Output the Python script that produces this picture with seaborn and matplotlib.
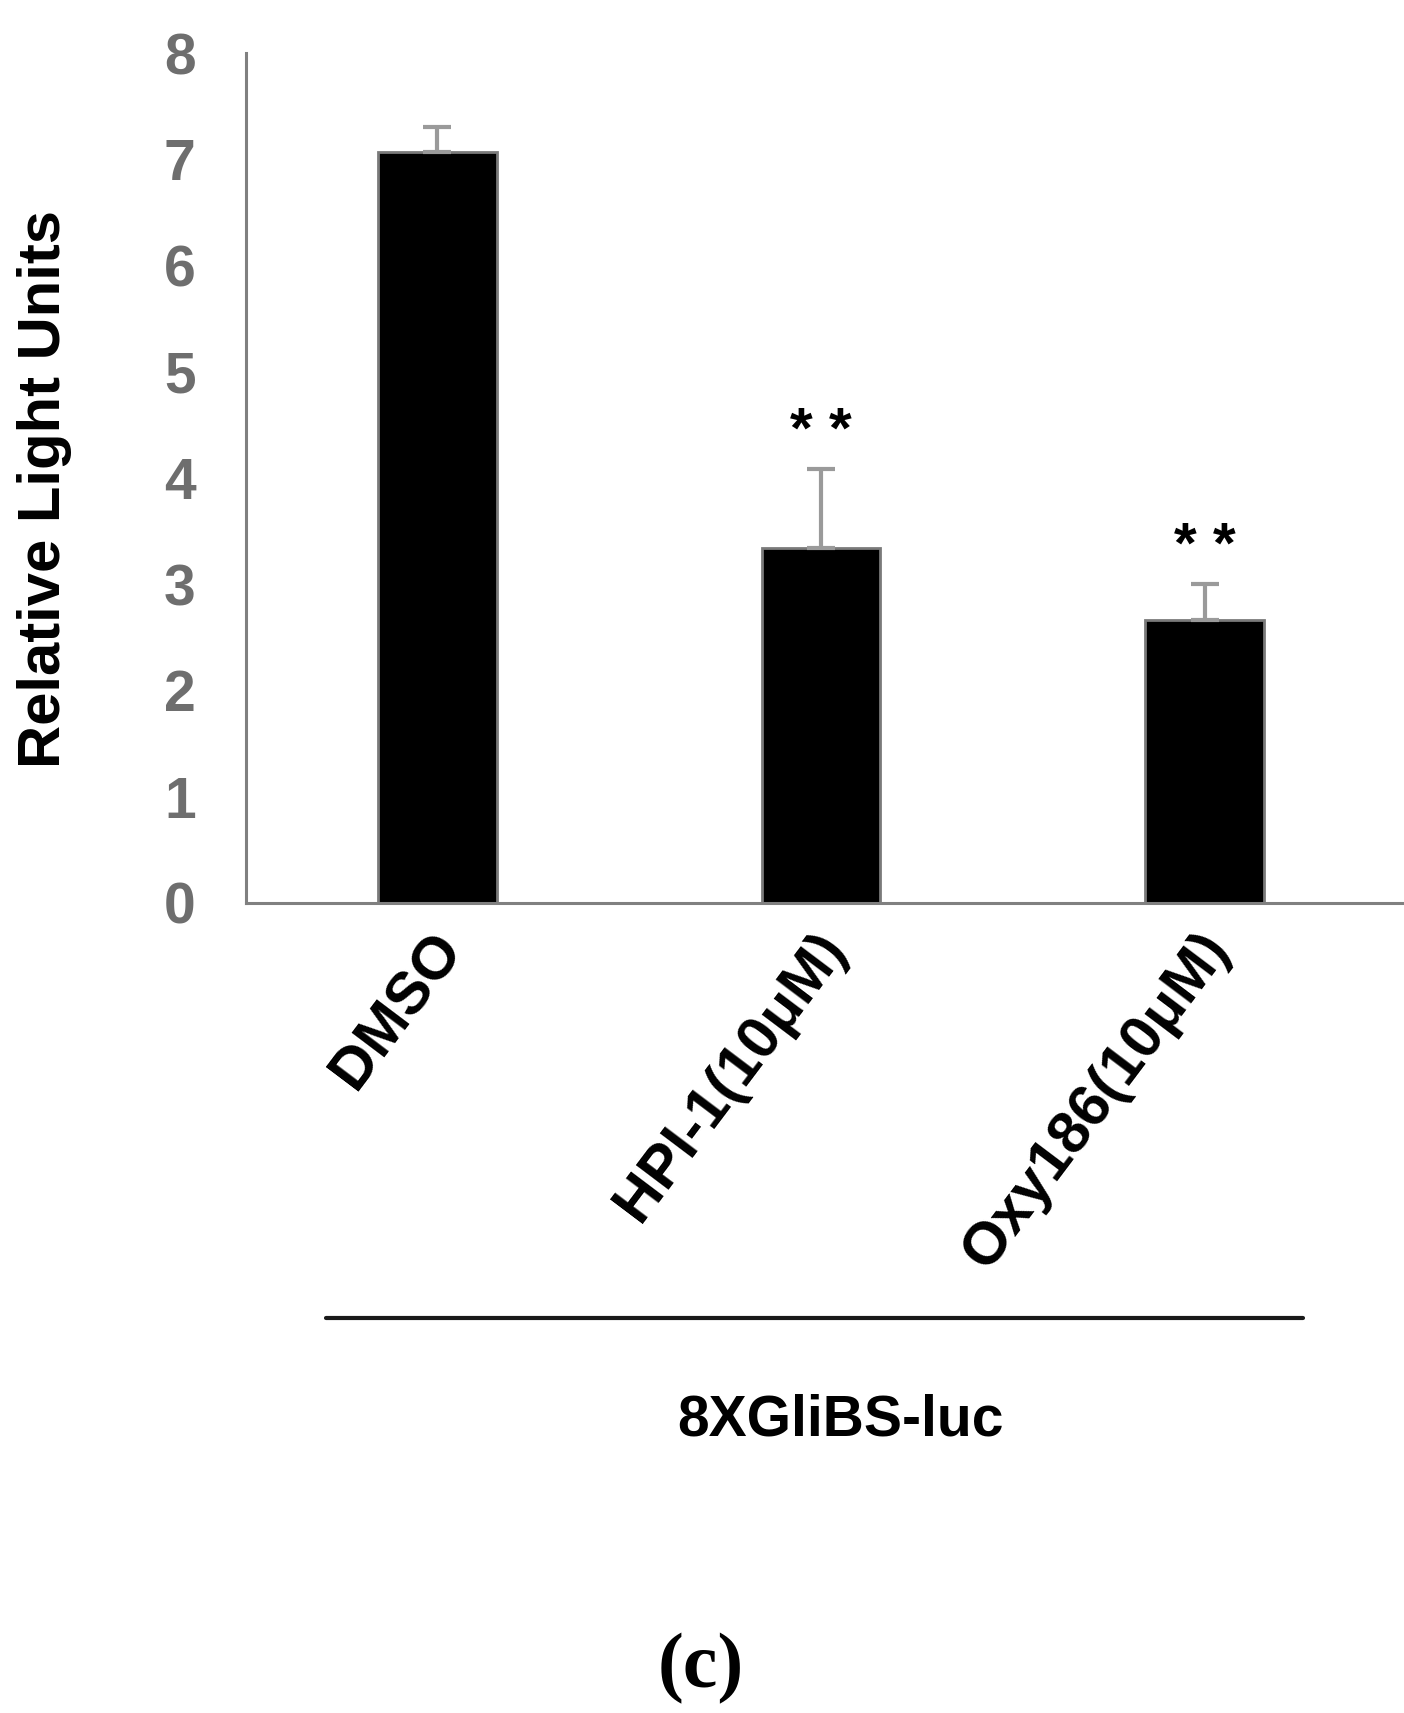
import pandas as pd
import matplotlib.pyplot as plt
import matplotlib.transforms as mtransforms
import seaborn as sns

# --- Data ---
treatments = ['DMSO', 'HPI-1(10\u03bcM)', 'Oxy186(10\u03bcM)']
rlu_mean = [7.07, 3.34, 2.66]
rlu_err = [0.23, 0.74, 0.34]
signif = ['', '**', '**']
reporter = '8XGliBS-luc'
panel = '(c)'

GREY = '#6e6e6e'


def make_plot():
    df = pd.DataFrame({'treatment': treatments, 'rlu': rlu_mean})

    sns.set_theme(style='white')
    plt.rcParams['font.family'] = ['Liberation Sans', 'DejaVu Sans']

    fig = plt.figure(figsize=(14.04, 17.13), dpi=100)
    ax = fig.add_axes([0.175, 0.473, 0.825, 0.496])

    sns.barplot(data=df, x='treatment', y='rlu', color='black', width=0.31,
                errorbar=None, edgecolor='#7a7a7a', linewidth=2, ax=ax)
    for patch in ax.patches:
        patch.set_facecolor('black')

    # error bars (upper only)
    ax.errorbar(range(len(treatments)), rlu_mean, yerr=[[0] * 3, rlu_err],
                fmt='none', ecolor='#9a9a9a', elinewidth=3, capsize=10,
                capthick=3, zorder=1)

    # significance stars
    for i, (m, e, s) in enumerate(zip(rlu_mean, rlu_err, signif)):
        if s:
            ax.text(i, m + e + 0.34, '* *', ha='center', va='center',
                    fontsize=42, fontweight='bold', color='black')

    ax.set_xlim(-0.5, 2.52)
    ax.set_ylim(0, 8)
    ax.set_yticks(range(0, 9))

    sns.despine(ax=ax)
    for side in ['left', 'bottom']:
        ax.spines[side].set_color('#808080')
        ax.spines[side].set_linewidth(2.2)

    ax.tick_params(axis='y', direction='out', length=14, width=2.2,
                   color='#808080', pad=22, labelsize=41, labelcolor=GREY)
    for lbl in ax.get_yticklabels():
        lbl.set_fontweight('bold')

    ax.tick_params(axis='x', length=0, pad=26)
    ax.set_xticks(range(len(treatments)))
    ax.set_xticklabels(treatments, rotation=53, ha='right', va='center',
                       rotation_mode='anchor', fontsize=43,
                       fontweight='bold', color='black')
    shift = mtransforms.ScaledTranslation(0.14, 0, fig.dpi_scale_trans)
    for lbl in ax.get_xticklabels():
        lbl.set_transform(lbl.get_transform() + shift)

    ax.set_xlabel('')
    ax.set_ylabel('Relative Light Units', fontsize=43, fontweight='bold',
                  color='black')
    ax.yaxis.set_label_coords(-0.15, 0.487)

    # bracket line under the group and its label
    ax.plot([0.069, 0.913], [-0.489, -0.489], transform=ax.transAxes,
            color='#1a1a1a', linewidth=3, clip_on=False)
    fig.text(0.599, 0.171, reporter, ha='center', va='center', fontsize=41,
             fontweight='bold', color='black')

    fig.text(0.499, 0.026, panel, ha='center', va='center', fontsize=56,
             fontweight='bold', color='black', family='Liberation Serif')

    fig.savefig('out.png', dpi=100)
    plt.close(fig)


if __name__ == '__main__':
    make_plot()
